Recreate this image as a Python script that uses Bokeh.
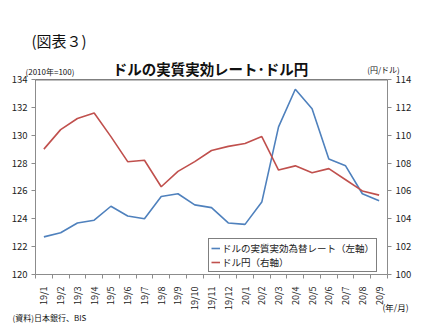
from bokeh.plotting import figure
from bokeh.models import (Range1d, LinearAxis, FixedTicker, Label, Span, Legend, LegendItem)
from bokeh.embed import file_html
from bokeh.resources import INLINE
import math

months = ["19/1", "19/2", "19/3", "19/4", "19/5", "19/6", "19/7", "19/8", "19/9", "19/10",
          "19/11", "19/12", "20/1", "20/2", "20/3", "20/4", "20/5", "20/6", "20/7", "20/8", "20/9"]
reer = [122.7, 123.0, 123.7, 123.9, 124.9, 124.2, 124.0, 125.6, 125.8, 125.0,
        124.8, 123.7, 123.6, 125.2, 130.6, 133.3, 131.9, 128.3, 127.8, 125.8, 125.3]
usdjpy = [109.0, 110.4, 111.2, 111.6, 109.9, 108.1, 108.2, 106.3, 107.4, 108.1,
          108.9, 109.2, 109.4, 109.9, 107.5, 107.8, 107.3, 107.6, 106.8, 106.0, 105.7]
left_ticks = [120, 122, 124, 126, 128, 130, 132, 134]
right_ticks = [100, 102, 104, 106, 108, 110, 112, 114]

FONT = "Noto Sans CJK JP"
BLUE = "#4F81BD"
RED = "#C0504D"
AX = "#8c8c8c"
TXT = "#222222"

xs = [i + 0.5 for i in range(len(months))]

p = figure(width=425, height=331, output_backend="svg", toolbar_location=None,
           x_range=Range1d(0, len(months)), y_range=Range1d(120, 134),
           min_border_left=35, min_border_right=38, min_border_top=79, min_border_bottom=57)
p.extra_y_ranges = {"yen": Range1d(100, 114)}
p.outline_line_color = None
p.grid.visible = False
p.background_fill_color = "white"
p.border_fill_color = "white"

# x axis: labels at category centres, tick marks at category boundaries
xa = p.xaxis[0]
xa.ticker = FixedTicker(ticks=xs, minor_ticks=list(range(len(months) + 1)))
xa.major_label_overrides = {x: m for x, m in zip(xs, months)}
xa.major_label_orientation = math.pi / 2
xa.major_tick_out = 0
xa.major_tick_in = 0
xa.minor_tick_out = 4
xa.minor_tick_in = 0
xa.minor_tick_line_color = AX
xa.axis_line_color = AX
xa.major_label_standoff = 8
xa.major_label_text_font = FONT
xa.major_label_text_font_size = "9px"
xa.major_label_text_color = TXT

ya = p.yaxis[0]
ya.ticker = FixedTicker(ticks=left_ticks)
ya.minor_tick_line_color = None
ya.major_tick_out = 4
ya.major_tick_in = 0
ya.major_tick_line_color = AX
ya.axis_line_color = AX
ya.major_label_standoff = 4
ya.major_label_text_font = FONT
ya.major_label_text_font_size = "9.5px"
ya.major_label_text_color = TXT

ra = LinearAxis(y_range_name="yen", ticker=FixedTicker(ticks=right_ticks))
ra.minor_tick_line_color = None
ra.major_tick_out = 4
ra.major_tick_in = 0
ra.major_tick_line_color = AX
ra.axis_line_color = AX
ra.major_label_standoff = 4
ra.major_label_text_font = FONT
ra.major_label_text_font_size = "9.5px"
ra.major_label_text_color = TXT
p.add_layout(ra, "right")

p.add_layout(Span(location=134, dimension="width", line_color="black", line_width=1.5))

r1 = p.line(xs, reer, line_color=BLUE, line_width=1.6)
r2 = p.line(xs, usdjpy, line_color=RED, line_width=1.6, y_range_name="yen")

legend = Legend(items=[LegendItem(label="ドルの実質実効為替レート（左軸）", renderers=[r1]),
                       LegendItem(label="ドル円（右軸）", renderers=[r2])],
                location=(173, 2), orientation="vertical",
                border_line_color="black", border_line_width=1,
                background_fill_alpha=1, padding=2, spacing=0, margin=0,
                glyph_width=9, glyph_height=12, label_height=12, label_standoff=2,
                label_text_font=FONT, label_text_font_size="9.5px", label_text_color=TXT)
p.add_layout(legend, "center")

def lab(side, text, x, y, size, align="left", bold=False):
    p.add_layout(Label(x=x, y=y, x_units="screen", y_units="screen", text=text,
                       text_font=FONT, text_font_size=size, text_align=align,
                       text_baseline="middle", text_color="#111111",
                       text_font_style="bold" if bold else "normal"), side)

# stacked panels above the frame (first = closest to the frame)
lab("above", "(2010年=100)", -10, 8, "8px")
lab("above", "(円/ドル)", 348, -1, "8px", align="center")
lab("above", "ドルの実質実効レート･ドル円", 175, -11, "14.5px", align="center", bold=True)
lab("above", "(図表３)", -4, -4, "15px")
lab("above", "(資料)日本銀行、BIS", -23, -302, "8px")
# panel below the x axis
lab("below", "(年/月)", 360, 19, "8.5px", align="center")

open("out.html", "w").write(file_html(p, INLINE))
